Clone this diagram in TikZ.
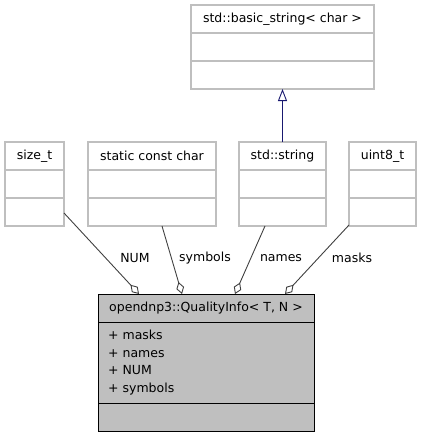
\documentclass[tikz,border=0pt]{standalone}
\usepackage{fontspec}
\setmainfont{DejaVu Sans}
\usepackage{xcolor}
\usepackage{tikz}
\usetikzlibrary{positioning,arrows.meta}

\definecolor{boxline}{HTML}{BFBFBF}
\definecolor{mainfill}{HTML}{BFBFBF}
\definecolor{edgegray}{HTML}{404040}
\definecolor{inhblue}{HTML}{191970}

\begin{document}
\begin{tikzpicture}[
  x=1pt, y=-1pt,
  font=\fontsize{12.5}{17.5}\selectfont,
  cls/.style={draw=boxline, line width=1.3pt, fill=white, anchor=north west,
              minimum height=84pt, inner sep=0pt, outer sep=0pt},
  mcls/.style={draw=black, line width=1pt, fill=mainfill, anchor=north west,
               minimum width=216pt, minimum height=137pt, inner sep=0pt, outer sep=0pt},
  sep/.style={draw=boxline, line width=1.3pt},
  msep/.style={draw=black, line width=1pt},
  ttl/.style={inner sep=0pt},
  elbl/.style={inner sep=0pt},
  agg/.style={draw=edgegray, line width=0.9pt,
              -{Diamond[open, length=12.5pt, width=8pt, line width=0.9pt]}},
  inh/.style={draw=inhblue, line width=0.9pt,
              -{Triangle[open, length=12pt, width=9pt, line width=0.9pt]}},
]
\useasboundingbox (0,0) rectangle (421,437);

% ── 基类 ──
\node[cls, minimum width=183pt] (bstr) at (191,5) {};
\node[ttl] (bstr-t) at (282.5,19) {std::basic\_string< char >};
\draw[sep] ([yshift=-28]bstr.north west) -- ([yshift=-28]bstr.north east);
\draw[sep] ([yshift=-56]bstr.north west) -- ([yshift=-56]bstr.north east);

% ── 成员类型 ──
\node[cls, minimum width=59pt] (sizet) at (5,142) {};
\node[ttl] (sizet-t) at (34.5,156) {size\_t};
\draw[sep] ([yshift=-28]sizet.north west) -- ([yshift=-28]sizet.north east);
\draw[sep] ([yshift=-56]sizet.north west) -- ([yshift=-56]sizet.north east);

\node[cls, minimum width=128pt] (scc) at (88,142) {};
\node[ttl] (scc-t) at (152,156) {static const char};
\draw[sep] ([yshift=-28]scc.north west) -- ([yshift=-28]scc.north east);
\draw[sep] ([yshift=-56]scc.north west) -- ([yshift=-56]scc.north east);

\node[cls, minimum width=87pt] (sstr) at (239,142) {};
\node[ttl] (sstr-t) at (282.5,156) {std::string};
\draw[sep] ([yshift=-28]sstr.north west) -- ([yshift=-28]sstr.north east);
\draw[sep] ([yshift=-56]sstr.north west) -- ([yshift=-56]sstr.north east);

\node[cls, minimum width=67pt] (u8) at (349,142) {};
\node[ttl] (u8-t) at (382.5,156) {uint8\_t};
\draw[sep] ([yshift=-28]u8.north west) -- ([yshift=-28]u8.north east);
\draw[sep] ([yshift=-56]u8.north west) -- ([yshift=-56]u8.north east);

% ── 主类 ──
\node[mcls] (qi) at (98,294) {};
\node[ttl] (qi-t) at (206,308) {opendnp3::QualityInfo< T, N >};
\draw[msep] ([yshift=-28]qi.north west) -- ([yshift=-28]qi.north east);
\draw[msep] ([yshift=-109]qi.north west) -- ([yshift=-109]qi.north east);
\node[ttl, anchor=north west, align=left] (qi-a) at (108,330)
  {+ masks\\+ names\\+ NUM\\+ symbols};

% ── 连线 ──
\draw[inh] (sstr.north) -- (bstr.south);
\draw[agg] ([yshift=13]sizet.south east) -- ([xshift=41]qi.north west);
\draw[agg] ([xshift=74]scc.south west) -- ([xshift=84]qi.north west);
\draw[agg] ([xshift=26]sstr.south west) -- ([xshift=137]qi.north west);
\draw[agg] ([yshift=1]u8.south west) -- ([xshift=187]qi.north west);

% ── 连线标签 ──
\node[elbl] (l-num) at (135,258) {NUM};
\node[elbl] (l-sym) at (205,258) {symbols};
\node[elbl] (l-nam) at (281,258) {names};
\node[elbl] (l-msk) at (352,258) {masks};

\end{tikzpicture}
\end{document}
